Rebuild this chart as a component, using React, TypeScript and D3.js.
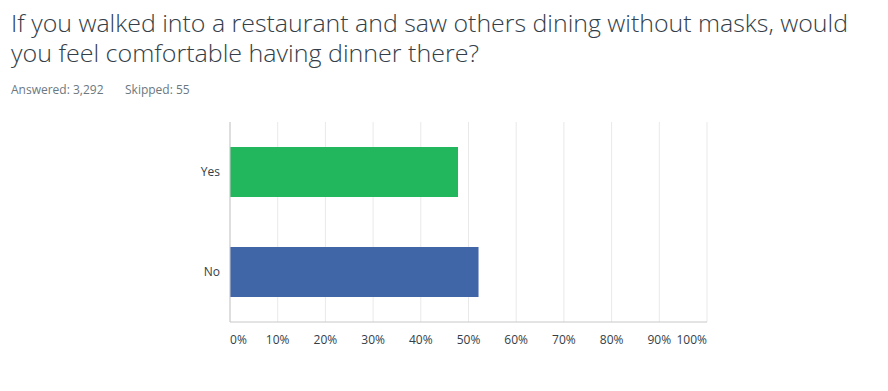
import React from 'react';
import { scaleBand, scaleLinear } from 'd3';

const width = 888;
const height = 391;

const categories = ['Yes', 'No'];
const percents = [47.8, 52.1];
const barColors = ['#22b75c', '#4166a8'];
const tickValues = [0, 10, 20, 30, 40, 50, 60, 70, 80, 90, 100];

const titleLines = [
  'If you walked into a restaurant and saw others dining without masks, would',
  'you feel comfortable having dinner there?',
];
const answered = 'Answered: 3,292';
const skipped = 'Skipped: 55';

const margin = { left: 230, right: 181, top: 122, bottom: 69 };
const innerW = width - margin.left - margin.right;
const innerH = height - margin.top - margin.bottom;

const x = scaleLinear().domain([0, 100]).range([0, innerW]);
const y = scaleBand().domain(categories).range([0, innerH]).paddingInner(0.5).paddingOuter(0.25);

const font = "'Open Sans', 'Noto Sans', sans-serif";

const App = () => {
  return (
    <svg
      width={width}
      height={height}
      style={{ position: 'absolute', left: 0, top: 0, background: '#fff' }}
      fontFamily={font}
    >
      <text x={11} y={32} fontSize={24} fontWeight={300} fill="#333e48" textLength={837} lengthAdjust="spacingAndGlyphs">
        {titleLines[0]}
      </text>
      <text x={11} y={62} fontSize={24} fontWeight={300} fill="#333e48" textLength={468} lengthAdjust="spacingAndGlyphs">
        {titleLines[1]}
      </text>
      <text x={11} y={94} fontSize={12} fill="#6b787f">{answered}</text>
      <text x={125} y={94} fontSize={12} fill="#6b787f">{skipped}</text>

      <g transform={`translate(${margin.left},${margin.top})`}>
        {tickValues.map((t) => (
          <line key={t} x1={x(t)} x2={x(t)} y1={0} y2={innerH} stroke="#e9e9e9" strokeWidth={1} />
        ))}
        {categories.map((c, i) => (
          <rect
            key={c}
            x={0}
            y={y(c)}
            width={x(percents[i])}
            height={y.bandwidth()}
            fill={barColors[i]}
          />
        ))}
        <line x1={0} x2={0} y1={0} y2={innerH} stroke="#c8c8c8" />
        <line x1={0} x2={innerW} y1={innerH} y2={innerH} stroke="#c8c8c8" />
        {categories.map((c) => (
          <text
            key={c}
            x={-10}
            y={(y(c) as number) + y.bandwidth() / 2}
            dy="0.35em"
            textAnchor="end"
            fontSize={12}
            fill="#333e48"
          >
            {c}
          </text>
        ))}
        {tickValues.map((t, i) => (
          <text
            key={t}
            x={x(t)}
            y={innerH + 22}
            textAnchor={i === 0 ? 'start' : i === tickValues.length - 1 ? 'end' : 'middle'}
            fontSize={12}
            fill="#333e48"
          >
            {t}%
          </text>
        ))}
      </g>
    </svg>
  );
};

export default App;
